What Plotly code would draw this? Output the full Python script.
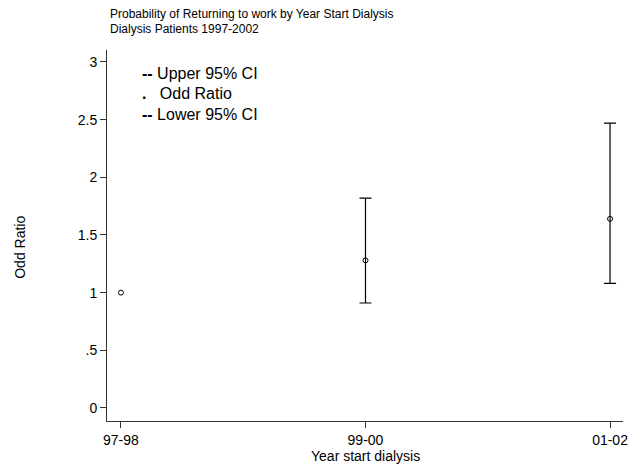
import plotly.graph_objects as go

categories = ["97-98", "99-00", "01-02"]
odds_ratio = [1.0, 1.28, 1.64]
upper_ci = [1.0, 1.82, 2.47]
lower_ci = [1.0, 0.91, 1.08]

xpos = list(range(len(categories)))
ci_idx = [i for i in xpos if upper_ci[i] != lower_ci[i]]

fig = go.Figure()
# confidence interval bars (only where a CI exists)
fig.add_trace(go.Scatter(
    x=[xpos[i] for i in ci_idx], y=[odds_ratio[i] for i in ci_idx], mode="markers",
    marker=dict(size=1, color="rgba(0,0,0,0)"),
    error_y=dict(type="data",
                 array=[upper_ci[i] - odds_ratio[i] for i in ci_idx],
                 arrayminus=[odds_ratio[i] - lower_ci[i] for i in ci_idx],
                 visible=True, color="black", thickness=1.2, width=6),
    showlegend=False, hoverinfo="skip",
))
fig.add_trace(go.Scatter(
    x=xpos, y=odds_ratio, mode="markers",
    marker=dict(symbol="circle-open", size=5, color="black", line=dict(width=1, color="black")),
    showlegend=False,
))

font = "Liberation Sans, Arial, sans-serif"
fig.update_layout(
    width=640, height=466,
    margin=dict(l=107, r=13, t=50, b=45),
    paper_bgcolor="white", plot_bgcolor="white",
    font=dict(family=font, color="black", size=12),
    xaxis=dict(
        range=[-0.057, 2.053], tickvals=xpos, ticktext=categories,
        showgrid=False, zeroline=False, showline=True, linecolor="#333", linewidth=1,
        ticks="outside", ticklen=6, tickcolor="#333", tickfont=dict(size=14),
    ),
    yaxis=dict(
        range=[-0.113, 3.104], tickvals=[0, 0.5, 1, 1.5, 2, 2.5, 3],
        ticktext=["0", ".5", "1", "1.5", "2", "2.5", "3"],
        showgrid=False, zeroline=False, showline=True, linecolor="#333", linewidth=1,
        ticks="outside", ticklen=6, tickcolor="#333", tickfont=dict(size=14),
    ),
    annotations=[
        dict(text="Probability of Returning to work by Year Start Dialysis",
             xref="paper", yref="paper", x=0.0, y=1.097, xanchor="left", yanchor="middle",
             xshift=1, showarrow=False, align="left", font=dict(size=12)),
        dict(text="Dialysis Patients 1997-2002",
             xref="paper", yref="paper", x=0.0, y=1.0566, xanchor="left", yanchor="middle",
             xshift=1, showarrow=False, align="left", font=dict(size=12)),
        dict(text="<b>--</b> Upper 95% CI", xref="paper", yref="paper", x=0.064, y=0.938,
             xanchor="left", yanchor="middle", showarrow=False, font=dict(size=16)),
        dict(text="<b>.</b>   Odd Ratio", xref="paper", yref="paper", x=0.064, y=0.884,
             xanchor="left", yanchor="middle", showarrow=False, font=dict(size=16)),
        dict(text="<b>--</b> Lower 95% CI", xref="paper", yref="paper", x=0.064, y=0.825,
             xanchor="left", yanchor="middle", showarrow=False, font=dict(size=16)),
        dict(text="Odd Ratio", xref="paper", yref="paper", x=-0.169, y=0.469,
             xanchor="center", yanchor="middle", textangle=-90, showarrow=False,
             font=dict(size=14)),
        dict(text="Year start dialysis", xref="paper", yref="paper", x=0.5, y=-0.094,
             xanchor="center", yanchor="middle", showarrow=False, font=dict(size=14)),
    ],
)

fig.write_html("out.html")
